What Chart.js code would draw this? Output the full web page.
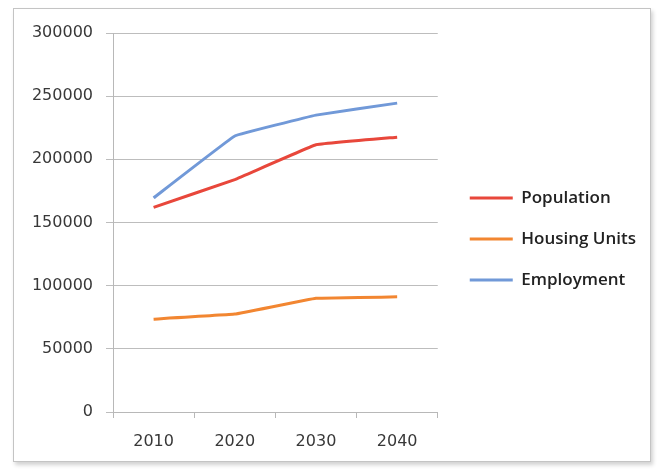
<!DOCTYPE html>
<html lang="en">
<head>
  <meta charset="UTF-8" />
  <title>Population, Housing Units and Employment</title>
  <script src="https://cdn.jsdelivr.net/npm/chart.js"></script>
  <style>
    body {
      margin: 0;
      background: #fff;
      width: 658px;
      height: 469px;
      overflow: hidden;
    }
    .frame {
      position: absolute;
      left: 13px;
      top: 8px;
      width: 636px;
      height: 452px;
      border: 1px solid #c4c4c4;
      box-shadow: 2px 3px 4px rgba(0, 0, 0, 0.18);
      background: #fff;
    }
    canvas {
      position: absolute;
      left: 0;
      top: 0;
    }
  </style>
</head>
<body>
  <div class="frame"></div>
  <canvas id="chart" width="658" height="469"></canvas>

  <script>
    const years = ['2010', '2020', '2030', '2040'];
    const population = [162000, 184000, 211500, 217500];
    const housingUnits = [73500, 77500, 90000, 91200];
    const employment = [169500, 218500, 235000, 244500];
    const yTicks = [0, 50000, 100000, 150000, 200000, 250000, 300000];

    // legend sits a little right of the plot and the layout caps its width,
    // so move it and let it run to the canvas edge
    const legendShift = {
      id: 'legendShift',
      afterUpdate(chart) {
        const lg = chart.legend;
        lg.left = chart.chartArea.right + 8;
        lg.right = chart.width;
        lg.width = lg.right - lg.left;
        lg.top -= 12;
        lg.bottom -= 12;
      }
    };

    const line = (label, data, color) => ({
      label: label,
      data: data,
      borderColor: color,
      backgroundColor: color,
      borderWidth: 3,
      pointRadius: 0,
      pointStyle: 'line',
      tension: 0.05,
      fill: false
    });

    const tickFont = { family: 'DejaVu Sans', size: 16 };

    new Chart(document.getElementById('chart'), {
      type: 'line',
      data: {
        labels: years,
        datasets: [
          line('Population', population, '#e8473b'),
          line('Housing Units', housingUnits, '#f28631'),
          line('Employment', employment, '#7199d8')
        ]
      },
      options: {
        responsive: false,
        animation: false,
        layout: { padding: { left: 14, top: 33, right: 79, bottom: 0 } },
        scales: {
          x: {
            offset: true,
            grid: {
              offset: true,
              drawOnChartArea: false,
              color: '#b8b8b8',
              tickLength: 6
            },
            border: { color: '#b8b8b8' },
            ticks: { color: '#383838', padding: 14, font: tickFont },
            afterFit: s => { s.height = 57; }
          },
          y: {
            min: 0,
            max: 300000,
            afterBuildTicks: s => { s.ticks = yTicks.map(v => ({ value: v })); },
            grid: { color: '#bdbdbd', tickLength: 7 },
            border: { color: '#b8b8b8' },
            ticks: {
              color: '#383838',
              padding: 13,
              font: tickFont,
              callback: v => String(v)
            },
            afterFit: s => { s.width = 99; }
          }
        },
        plugins: {
          legend: {
            position: 'right',
            labels: {
              usePointStyle: true,
              pointStyleWidth: 43,
              padding: 24,
              color: '#222',
              font: { family: 'Open Sans', size: 17, weight: '600' }
            }
          },
          tooltip: { enabled: false }
        }
      },
      plugins: [legendShift]
    });
  </script>
</body>
</html>
